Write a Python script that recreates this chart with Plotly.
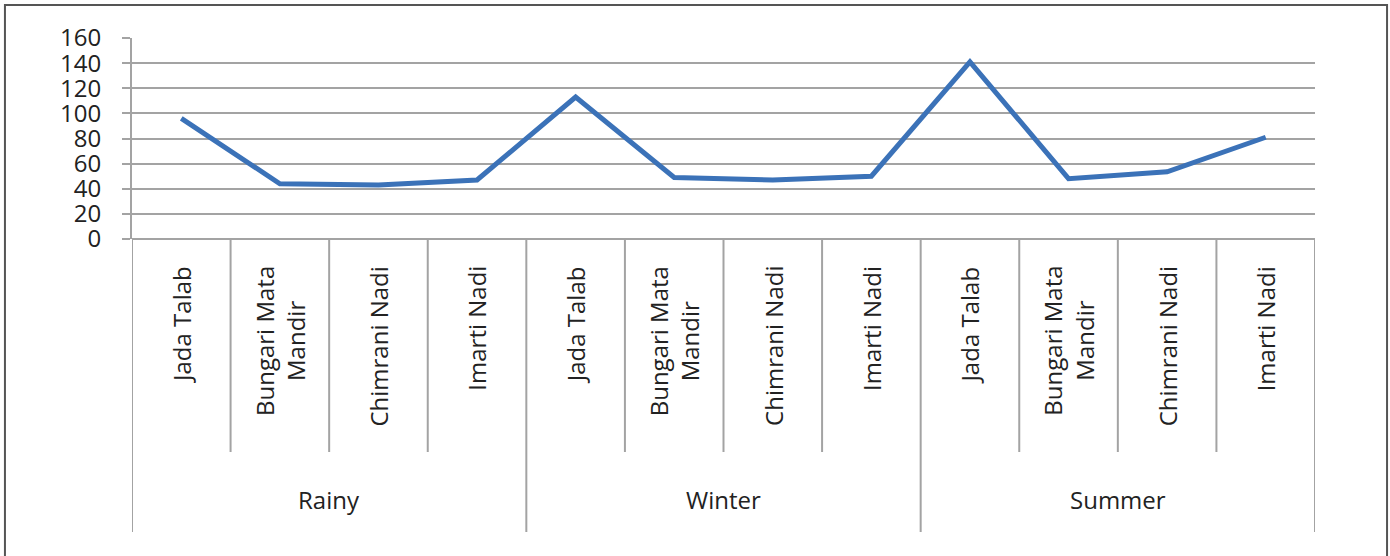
import plotly.graph_objects as go

seasons = ["Rainy", "Winter", "Summer"]
sites = ["Jada Talab", "Bungari Mata<br>Mandir", "Chimrani Nadi", "Imarti Nadi"]
rainy = [96, 44, 43, 47]
winter = [113, 49, 47, 50]
summer = [141, 48, 53.5, 81]
y_ticks = [0, 20, 40, 60, 80, 100, 120, 140, 160]

values = rainy + winter + summer
n = len(values)
xs = list(range(n))

GRID = "#a3a3a3"
FONT = "Open Sans"
TXT = "#222222"

fig = go.Figure()
fig.add_trace(go.Scatter(x=xs, y=values, mode="lines",
                         line=dict(color="#3b72b8", width=5),
                         showlegend=False, hoverinfo="skip"))

shapes = []
# separators between sites; season boundaries run deeper
for i in range(n + 1):
    bx = i - 0.5
    outer = (i % len(sites) == 0)
    shapes.append(dict(type="line", xref="x", yref="paper",
                       x0=bx, x1=bx, y0=0,
                       y1=(-1.4577 if outer else -1.0597),
                       line=dict(color=GRID, width=2), layer="above"))
# frame
shapes.append(dict(type="rect", xref="paper", yref="paper",
                   x0=-0.1074, x1=1.0609, y0=-1.8, y1=1.1642,
                   line=dict(color="#555555", width=2), fillcolor="rgba(0,0,0,0)"))

annotations = []
for s_i, s in enumerate(seasons):
    for k, site in enumerate(sites):
        idx = s_i * len(sites) + k
        annotations.append(dict(x=idx, y=-0.125, xref="x", yref="paper",
                                text=site, showarrow=False, textangle=-90,
                                xanchor="center", yanchor="top", align="center",
                                font=dict(family=FONT, size=24, color=TXT)))
    center = s_i * len(sites) + (len(sites) - 1) / 2
    annotations.append(dict(x=center, y=-1.2985, xref="x", yref="paper",
                            text=s, showarrow=False,
                            xanchor="center", yanchor="middle",
                            font=dict(family=FONT, size=24, color=TXT)))

fig.update_layout(
    width=1390, height=556,
    margin=dict(l=132, r=75, t=38, b=317),
    paper_bgcolor="white", plot_bgcolor="white",
    shapes=shapes, annotations=annotations,
    xaxis=dict(range=[-0.5, n - 0.5], showgrid=False, zeroline=False,
               showticklabels=False, ticks="", showline=False, fixedrange=True),
    yaxis=dict(range=[0, 160], tickvals=y_ticks, ticktext=[str(v) for v in y_ticks],
               showgrid=True, gridcolor=GRID, gridwidth=2,
               zeroline=True, zerolinecolor=GRID, zerolinewidth=2,
               showline=True, linecolor=GRID, linewidth=2,
               ticks="outside", ticklen=8, tickcolor=GRID, tickwidth=2,
               ticklabelstandoff=16,
               tickfont=dict(family=FONT, size=24, color=TXT), fixedrange=True),
    font=dict(family=FONT, color=TXT),
)

fig.write_html("out.html")
